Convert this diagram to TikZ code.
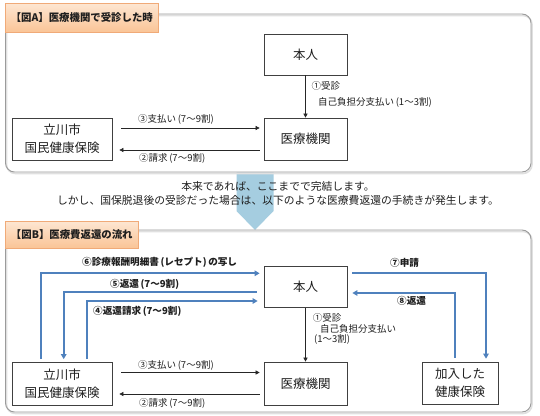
\documentclass[tikz,border=0pt]{standalone}
\usepackage{fontspec}
\setmainfont{Noto Sans CJK JP}
\usetikzlibrary{arrows.meta,shadows}
\definecolor{panelgray}{RGB}{155,155,155}
\definecolor{tabedge}{RGB}{240,170,120}
\definecolor{tabtop}{RGB}{253,230,210}
\definecolor{tabbot}{RGB}{250,196,150}
\definecolor{bluel}{RGB}{79,129,189}
\definecolor{arrowfill}{RGB}{165,205,224}
\definecolor{txt}{RGB}{30,30,30}
\begin{document}
\begin{tikzpicture}[x=1pt,y=-1pt,
 panel/.style={draw=panelgray, line width=0.9pt, rounded corners=9pt},
 pshadow/.style={draw=black!12, line width=1.6pt, rounded corners=9pt},
 box/.style={draw=black!75, line width=0.7pt, minimum width=83pt, minimum height=41pt, inner sep=0pt, font=\fontsize{12.5}{18}\selectfont, align=center, text=txt},
 tab/.style={draw=tabedge, top color=tabtop, bottom color=tabbot, line width=0.6pt, inner sep=0pt, anchor=north west, font=\fontsize{10.4}{12}\selectfont\bfseries, text=txt, drop shadow={shadow xshift=1pt, shadow yshift=-1pt, opacity=0.25}},
 lbl/.style={anchor=west, inner sep=0pt, font=\fontsize{9.5}{11}\selectfont, text=txt},
 blbl/.style={anchor=west, inner sep=0pt, font=\fontsize{9.6}{11}\selectfont\bfseries, text=txt},
 note/.style={inner sep=0pt, font=\fontsize{10.8}{13}\selectfont, text=txt},
 thinarr/.style={draw=black!85, line width=0.6pt, -{Triangle[length=4pt,width=4pt]}},
 bluearr/.style={draw=bluel, line width=1.8pt, -{Triangle[length=5pt,width=5.5pt]}},
]
\useasboundingbox (0,0) rectangle (540,415);
\fill[white] (0,0) rectangle (540,415);

% big arrow
\fill[arrowfill] (236.5,172.5) -- (273.5,172.5) -- (273.5,211) -- (255,230) -- (236.5,211) -- cycle;

% panels
\draw[pshadow] (6.5,15.5) rectangle (532,173.5);
\draw[panel] (5.5,14) rectangle (531,172);
\draw[pshadow] (6.5,231.5) rectangle (532,413.5);
\draw[panel] (5.5,230) rectangle (531,412);

% tabs
\node[tab, minimum width=153pt, minimum height=29pt] (tabA) at (5,3) {【図A】医療機関で受診した時};
\node[tab, minimum width=133pt, minimum height=27pt] (tabB) at (5,221) {【図B】医療費返還の流れ};

% panel A boxes
\node[box] (honninA) at (305.5,54.5) {本人};
\node[box, minimum height=42pt] (iryouA) at (305.5,139) {医療機関};
\node[box, minimum width=100pt, minimum height=42pt] (tachiA) at (62,139) {立川市\\国民健康保険};

\draw[thinarr] (honninA) -- (iryouA);
\draw[thinarr, shorten <=9pt, shorten >=4pt] ([yshift=11pt]tachiA.east) -- ([yshift=11pt]iryouA.west);
\draw[thinarr, shorten <=4pt, shorten >=7pt] ([yshift=-11pt]iryouA.west) -- ([yshift=-11pt]tachiA.east);

\node[lbl] (a1) at (311.5,86) {①受診};
\node[lbl] (a1b) at (318,102) {自己負担分支払い\,(1～3割)};
\node[lbl] (a3) at (138,119) {③支払い\,(7～9割)};
\node[lbl] (a2) at (139,158) {②請求\,(7～9割)};

% notes
\node[note] (n1) at (278,186) {本来であれば、ここまでで完結します。};
\node[note] (n2) at (278,200) {しかし、国保脱退後の受診だった場合は、以下のような医療費返還の手続きが発生します。};

% panel B boxes
\node[box] (honninB) at (305.5,287) {本人};
\node[box, minimum height=43pt] (iryouB) at (305.5,383.5) {医療機関};
\node[box, minimum width=100pt, minimum height=43pt] (tachiB) at (62,383.5) {立川市\\国民健康保険};
\node[box, minimum width=76pt, minimum height=42pt] (kanyuB) at (460,383) {加入した\\健康保険};

\draw[thinarr] (honninB) -- (iryouB);
\draw[thinarr, shorten <=9pt, shorten >=4pt] ([yshift=11pt]tachiB.east) -- ([yshift=11pt]iryouB.west);
\draw[thinarr, shorten <=4pt, shorten >=7pt] ([yshift=-10.5pt]iryouB.west) -- ([yshift=-10.5pt]tachiB.east);

% blue flows
\draw[bluearr, shorten >=4pt] ([xshift=-21.3pt,yshift=2.5pt]tachiB.north) |- ([yshift=13.7pt]honninB.west);
\draw[bluearr, shorten <=7pt] ([yshift=-4.7pt]honninB.west) -| ([xshift=1.7pt,yshift=2.5pt]tachiB.north);
\draw[bluearr, shorten >=6pt] ([xshift=24.7pt,yshift=2.5pt]tachiB.north) |- ([yshift=-14pt]honninB.west);
\draw[bluearr, shorten <=5pt] ([yshift=14.3pt]honninB.east) -| ([xshift=26pt,yshift=3pt]kanyuB.north);
\draw[bluearr, shorten >=5pt] ([xshift=-5pt,yshift=4pt]kanyuB.north) |- ([yshift=-6pt]honninB.east);

\node[lbl] (b1) at (312.7,318) {①受診};
\node[lbl] (b1b) at (320,329) {自己負担分支払い};
\node[lbl] (b1c) at (314,339) {(1～3割)};
\node[lbl] (b3) at (138,365) {③支払い\,(7～9割)};
\node[lbl] (b2) at (139,403.6) {②請求\,(7～9割)};
\node[blbl] (b6) at (82,262) {⑥診療報酬明細書\,(レセプト)\,の写し};
\node[blbl] (b5) at (110,284) {⑤返還\,(7～9割)};
\node[blbl] (b4) at (93,311.7) {④返還請求\,(7～9割)};
\node[blbl] (b7) at (390,263) {⑦申請};
\node[blbl] (b8) at (397,301) {⑧返還};
\end{tikzpicture}
\end{document}
